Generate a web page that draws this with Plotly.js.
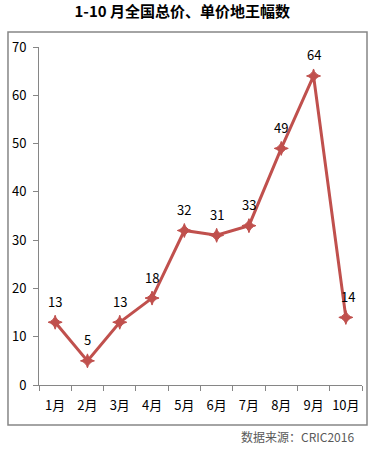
<!DOCTYPE html>
<html><head><meta charset="utf-8">
<script src="https://cdn.plot.ly/plotly-3.0.1.min.js"></script>
<style>html,body{margin:0;padding:0;background:#fff;}#c{width:372px;height:452px;}</style>
</head><body><div id="c"></div>
<script>
const categories = ['1月','2月','3月','4月','5月','6月','7月','8月','9月','10月'];
const values = [13, 5, 13, 18, 32, 31, 33, 49, 64, 14];
const yTicks = [0, 10, 20, 30, 40, 50, 60, 70];
const titleText = '1-10 月全国总价、单价地王幅数';
const sourceText = '数据来源：CRIC2016';

const font = 'Noto Sans CJK SC, Noto Sans, sans-serif';
const trace = {
  x: categories, y: values, type: 'scatter', mode: 'lines+markers',
  line: {color: '#C0504D', width: 3},
  marker: {symbol: 'star-diamond', size: 10, color: '#C0504D', line: {color: '#C0504D', width: 1}},
  cliponaxis: false, hoverinfo: 'none'
};
const labelAnn = categories.map((c, i) => ({
  x: c, y: values[i], xref: 'x', yref: 'y', text: String(values[i]), showarrow: false,
  yshift: 21, xshift: i === 9 ? 2 : 0, font: {family: font, size: 13, color: '#000'}
}));
const layout = {
  width: 372, height: 452,
  margin: {l: 39, r: 10, t: 47, b: 67},
  paper_bgcolor: '#fff', plot_bgcolor: '#fff',
  showlegend: false,
  title: {text: '<b>' + titleText + '</b>', font: {family: font, size: 15, color: '#000'}, x: 0.49, xanchor: 'center', y: 0.973, yanchor: 'middle'},
  xaxis: {type: 'category', showgrid: false, zeroline: false, showline: true, linecolor: '#868686', linewidth: 1,
    ticks: 'outside', tickson: 'boundaries', ticklen: 5, tickcolor: '#868686', tickangle: 0,
    tickfont: {family: font, size: 13, color: '#000'}, range: [-0.5, 9.5], fixedrange: true, ticklabelstandoff: 8},
  yaxis: {range: [0, 70], tickvals: yTicks, showgrid: false, zeroline: false, showline: true, linecolor: '#868686', linewidth: 1,
    ticks: 'outside', ticklen: 5, tickcolor: '#868686', ticklabelstandoff: 4,
    tickfont: {family: font, size: 13, color: '#000'}, fixedrange: true},
  shapes: [{type: 'rect', xref: 'paper', yref: 'paper', x0: -0.096, x1: 1.0155, y0: -0.1183, y1: 1.0444,
    line: {color: '#868686', width: 1.5}, fillcolor: 'rgba(0,0,0,0)'}],
  annotations: labelAnn.concat([{text: sourceText, xref: 'paper', yref: 'paper', x: 0.98, xanchor: 'right', y: -0.151, yanchor: 'middle',
    showarrow: false, font: {family: font, size: 12, color: '#595959'}}])
};
Plotly.newPlot('c', [trace], layout, {displayModeBar: false, staticPlot: true});
</script></body></html>
